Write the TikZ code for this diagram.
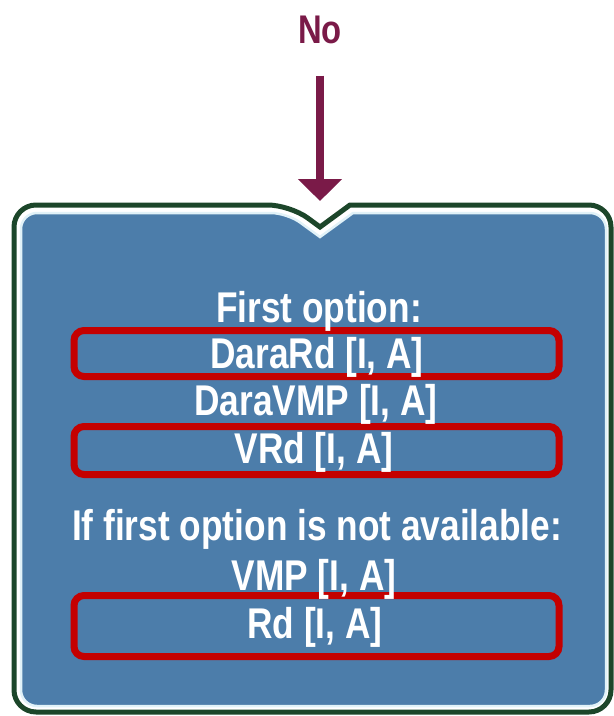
\documentclass[tikz,border=0pt]{standalone}
\usepackage{fontspec}
\setmainfont{Liberation Sans}[FakeStretch=0.82]
\usetikzlibrary{arrows.meta}
\definecolor{maroon}{RGB}{122,26,72}
\definecolor{darkgreen}{RGB}{28,70,42}
\definecolor{boxblue}{RGB}{76,125,170}
\definecolor{redline}{RGB}{196,0,0}
\definecolor{rim}{RGB}{225,242,248}
\tikzset{
  txt/.style={anchor=base, text=white, inner sep=0pt, font=\bfseries\fontsize{43}{43}\selectfont},
  redbox/.style={draw=redline, line width=7pt, rounded corners=10pt, inner sep=0pt, minimum width=485pt},
  flowarrow/.style={draw=maroon, line width=8pt, -{Triangle[width=43pt,length=22pt]}},
}
\begin{document}
\begin{tikzpicture}[x=1pt,y=-1pt]
\useasboundingbox (0,0) rectangle (614,716);
% outer frame
\draw[darkgreen, line width=5pt, rounded corners=22pt]
  (14,460) -- (14,205) -- (290,205) [sharp corners] -- (320,227) -- (350,205)
  [rounded corners=22pt] -- (611,205) -- (611,712) -- (14,712) -- cycle;
\filldraw[fill=boxblue, draw=rim, line width=2.5pt, rounded corners=16pt]
  (21,460) -- (21,213) -- (287,213) [sharp corners] -- (320,237) -- (353,213)
  [rounded corners=16pt] -- (606,213) -- (606,706) -- (21,706) -- cycle;
% incoming arrow
\node[anchor=base, text=maroon, inner sep=0pt, font=\bfseries\fontsize{40}{40}\selectfont] (no) at (320,43) {No};
\coordinate (tip) at (320,201);
\draw[flowarrow, shorten <=32pt] (no.south) -- (tip);
% red boxes
\node[redbox, minimum height=46pt] (r1) at (316.5,353.5) {};
\node[redbox, minimum height=48pt] (r2) at (316.5,450.5) {};
\node[redbox, minimum height=61pt] (r3) at (316.5,626) {};
% texts
\node[txt] (l1) at (319,322) {First option:};
\node[txt] (l2) at (317,368) {DaraRd [I, A]};
\node[txt] (l3) at (316,415) {DaraVMP [I, A]};
\node[txt] (l4) at (314,463) {VRd [I, A]};
\node[txt] (l5) at (317,540) {If first option is not available:};
\node[txt] (l6) at (314,590) {VMP [I, A]};
\node[txt] (l7) at (315,638) {Rd [I, A]};
\end{tikzpicture}
\end{document}
